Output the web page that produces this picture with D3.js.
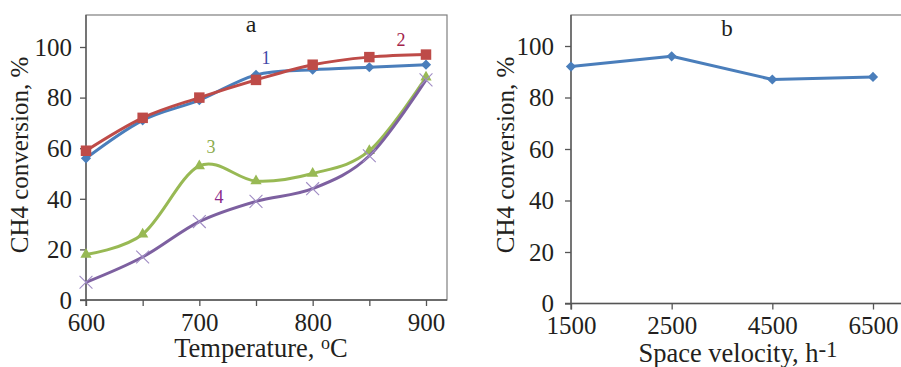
<!DOCTYPE html>
<html>
<head>
<meta charset="utf-8">
<script src="https://cdn.jsdelivr.net/npm/d3@7"></script>
<style>
  html, body { margin: 0; padding: 0; background: #fff; }
  svg { display: block; }
</style>
</head>
<body>
<script>
// Panel a: CH4 conversion vs temperature, four catalysts
const temperature = [600, 650, 700, 750, 800, 850, 900];
const temperatureTicks = [600, 650, 700, 750, 800, 850, 900];
const temperatureLabels = [600, 700, 800, 900];
const conversion1 = [56, 71, 79, 89, 91, 92, 93];
const conversion2 = [59, 72, 80, 87, 93, 96, 97];
const conversion3 = [18, 26, 53, 47, 50, 59, 88];
const conversion4 = [7, 17, 31, 39, 44, 57, 87];
const conversionTicks = [0, 20, 40, 60, 80, 100];

// Panel b: CH4 conversion vs space velocity
const spaceVelocity = ["1500", "2500", "4500", "6500"];
const conversionB = [92, 96, 87, 88];

const SERIF = '"Liberation Serif", "DejaVu Serif", serif';
const INK = "#231f20";
const W = 901, H = 367;
const svg = d3.select("body").append("svg")
  .attr("width", W).attr("height", H)
  .style("background", "#fff")
  .attr("font-family", SERIF);

const axisColor = "#555";
const boxColor = "#7f7f7f";
const colors = {
  blue: "#4a7ebb", red: "#be4b48", green: "#98b954", purple: "#7d60a0"
};

function txt(g) {
  return g.append("text").style("font-family", SERIF).style("fill", INK);
}

function diamond(g, x, y, color) {
  g.append("path")
    .attr("d", d3.symbol(d3.symbolSquare, 52)())
    .attr("transform", `translate(${x},${y}) rotate(45)`)
    .attr("fill", color);
}

function styleAxis(sel) {
  sel.attr("font-family", SERIF);
  sel.selectAll("path.domain").remove();
  sel.selectAll("line").attr("stroke", axisColor).attr("stroke-width", 1.3);
  sel.selectAll("text")
    .style("font-family", SERIF)
    .style("font-size", "25px")
    .style("fill", INK);
}

// ---------- Panel a ----------
{
  const left = 86, right = 447, top = 15;
  const x = d3.scaleLinear().domain([600, 900]).range([86, 426]);
  const y = d3.scaleLinear().domain([0, 100]).range([300, 47]);
  const g = svg.append("g");

  // plot box
  g.append("rect").attr("x", left).attr("y", top)
    .attr("width", right - left).attr("height", y(0) - top)
    .attr("fill", "none").attr("stroke", boxColor).attr("stroke-width", 1.2);

  // x axis
  const xa = g.append("g").attr("transform", `translate(0,${y(0)})`)
    .call(d3.axisBottom(x).tickValues(temperatureTicks).tickSize(6).tickPadding(5)
      .tickFormat(d => temperatureLabels.includes(d) ? d : ""));
  styleAxis(xa);
  xa.selectAll("text").attr("dy", "0.78em");
  g.append("line").attr("x1", left - 6).attr("x2", right).attr("y1", y(0)).attr("y2", y(0))
    .attr("stroke", axisColor).attr("stroke-width", 1.3);

  // y axis
  const ya = g.append("g").attr("transform", `translate(${left},0)`)
    .call(d3.axisLeft(y).tickValues(conversionTicks).tickSize(6).tickPadding(8));
  styleAxis(ya);
  ya.selectAll("text").attr("dy", "0.33em");
  g.append("line").attr("x1", left).attr("x2", left).attr("y1", top).attr("y2", y(0) + 6)
    .attr("stroke", axisColor).attr("stroke-width", 1.3);

  const line = d3.line()
    .x((d, i) => x(temperature[i]))
    .y(d => y(d))
    .curve(d3.curveCardinal.tension(0));

  const series = [
    { v: conversion1, c: colors.blue, m: "diamond" },
    { v: conversion2, c: colors.red, m: "square" },
    { v: conversion3, c: colors.green, m: "triangle" },
    { v: conversion4, c: colors.purple, m: "x" }
  ];
  series.forEach(s => {
    g.append("path").datum(s.v).attr("d", line)
      .attr("fill", "none").attr("stroke", s.c).attr("stroke-width", 3)
      .attr("stroke-linejoin", "round");
    s.v.forEach((d, i) => {
      const px = x(temperature[i]), py = y(d);
      if (s.m === "diamond") diamond(g, px, py, s.c);
      else if (s.m === "square") g.append("path")
        .attr("d", d3.symbol(d3.symbolSquare, 110)())
        .attr("transform", `translate(${px},${py})`).attr("fill", s.c);
      else if (s.m === "triangle") g.append("path")
        .attr("d", d3.symbol(d3.symbolTriangle, 55)())
        .attr("transform", `translate(${px},${py})`).attr("fill", s.c);
      else g.append("path")
        .attr("d", d3.symbol(d3.symbolTimes, 110)())
        .attr("transform", `translate(${px},${py})`)
        .attr("fill", "none").attr("stroke", "#a08cc4").attr("stroke-width", 1.1);
    });
  });

  // series numbers
  const tags = [
    { t: "1", x: 266, y: 64, c: "#3f48a8" },
    { t: "2", x: 401, y: 46, c: "#a3234a" },
    { t: "3", x: 211, y: 153, c: "#8cac4c" },
    { t: "4", x: 219, y: 203, c: "#8b2a8b" }
  ];
  tags.forEach(d => txt(g).attr("x", d.x).attr("y", d.y)
    .attr("text-anchor", "middle").style("font-size", "18px")
    .style("fill", d.c).text(d.t));

  txt(g).attr("x", 251).attr("y", 32).attr("text-anchor", "middle")
    .style("font-size", "24px").text("a");

  // axis titles
  const xt = txt(g).attr("x", 261).attr("y", 357).attr("text-anchor", "middle")
    .style("font-size", "26.5px");
  xt.append("tspan").text("Temperature, ");
  xt.append("tspan").attr("dy", -8).style("font-size", "18px").text("o");
  xt.append("tspan").attr("dy", 8).text("C");

  txt(g).attr("transform", `translate(28,155) rotate(-90)`)
    .attr("text-anchor", "middle").style("font-size", "25px").text("CH4 conversion, %");
}

// ---------- Panel b ----------
{
  const left = 571, right = 902, top = 15;
  const x = d3.scalePoint().domain(spaceVelocity).range([571, 873]);
  const y = d3.scaleLinear().domain([0, 100]).range([303.5, 46]);
  const g = svg.append("g");

  g.append("rect").attr("x", left).attr("y", top)
    .attr("width", right - left).attr("height", y(0) - top)
    .attr("fill", "none").attr("stroke", boxColor).attr("stroke-width", 1.2);

  const xa = g.append("g").attr("transform", `translate(0,${y(0)})`)
    .call(d3.axisBottom(x).tickSize(6).tickPadding(5));
  styleAxis(xa);
  xa.selectAll("text").attr("dy", "0.78em");
  g.append("line").attr("x1", left - 6).attr("x2", right).attr("y1", y(0)).attr("y2", y(0))
    .attr("stroke", axisColor).attr("stroke-width", 1.3);

  const ya = g.append("g").attr("transform", `translate(${left},0)`)
    .call(d3.axisLeft(y).tickValues(conversionTicks).tickSize(6).tickPadding(11));
  styleAxis(ya);
  ya.selectAll("text").attr("dy", "0.33em");
  g.append("line").attr("x1", left).attr("x2", left).attr("y1", top).attr("y2", y(0) + 6)
    .attr("stroke", axisColor).attr("stroke-width", 1.3);

  const line = d3.line().x((d, i) => x(spaceVelocity[i])).y(d => y(d));
  g.append("path").datum(conversionB).attr("d", line)
    .attr("fill", "none").attr("stroke", colors.blue).attr("stroke-width", 3)
    .attr("stroke-linejoin", "round");
  conversionB.forEach((d, i) => diamond(g, x(spaceVelocity[i]), y(d), colors.blue));

  txt(g).attr("x", 727).attr("y", 36).attr("text-anchor", "middle")
    .style("font-size", "23px").text("b");

  const xt = txt(g).attr("x", 738).attr("y", 362).attr("text-anchor", "middle")
    .style("font-size", "26.5px");
  xt.append("tspan").text("Space velocity, h");
  xt.append("tspan").attr("dy", -5).style("font-size", "23px").text("-1");

  txt(g).attr("transform", `translate(514,155) rotate(-90)`)
    .attr("text-anchor", "middle").style("font-size", "25px").text("CH4 conversion, %");
}
</script>
</body>
</html>
